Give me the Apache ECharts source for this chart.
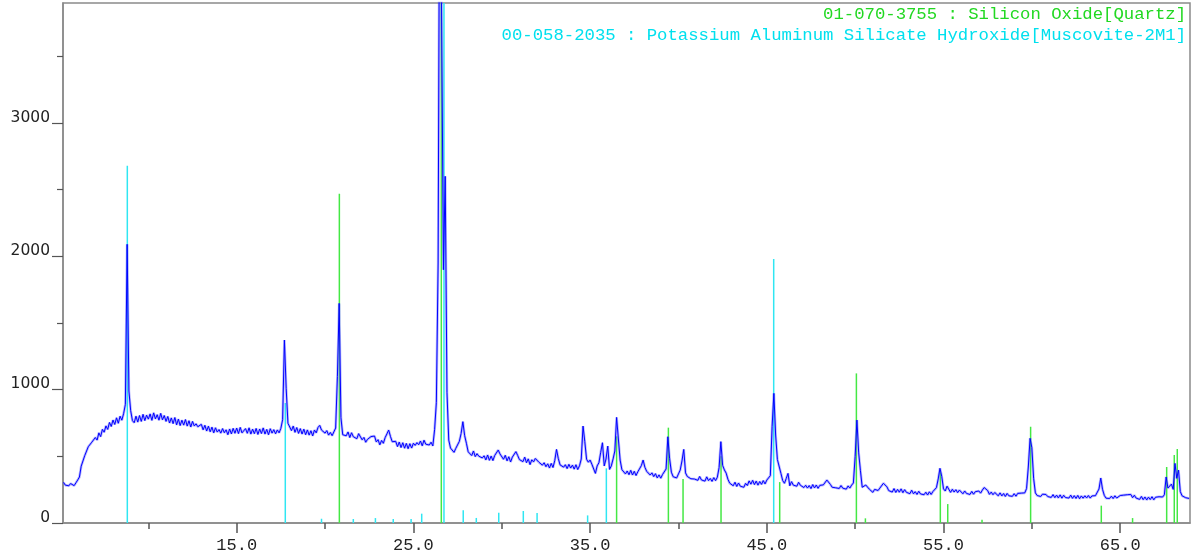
<!DOCTYPE html>
<html>
<head>
<meta charset="utf-8">
<script src="https://cdn.jsdelivr.net/npm/echarts@6/dist/echarts.min.js"></script>
<style>
  html, body { margin: 0; padding: 0; background: #ffffff; }
  #chart { width: 1204px; height: 560px; }
</style>
</head>
<body>
<div id="chart"></div>
<script>
// Measured scan: 2-theta from scanStart in steps of scanStep, counts per step (one row per degree)
const scanStart = 5.2;
const scanStep = 0.1;
const scanCounts = [
  305, 284, 299, 279, 296, 287, 280, 301,                 // 5.2 - 5.9
  322, 345, 426, 436, 505, 511, 572, 558, 606, 597,       // 6
  641, 622, 676, 648, 702, 681, 728, 702, 754, 724,       // 7
  772, 739, 789, 748, 801, 771, 820, 890, 2090, 990,      // 8
  842, 768, 752, 801, 757, 806, 762, 815, 768, 809,       // 9
  779, 818, 770, 826, 781, 812, 771, 822, 774, 806,       // 10
  762, 799, 750, 788, 745, 791, 736, 779, 731, 771,       // 11
  734, 776, 727, 767, 720, 762, 728, 744, 722, 736,       // 12
  740, 699, 733, 690, 726, 684, 719, 676, 714, 682,       // 13
  701, 674, 708, 677, 699, 662, 705, 668, 710, 673,       // 14
  712, 671, 717, 676, 666, 708, 673, 714, 667, 704,       // 15
  670, 709, 664, 705, 671, 713, 667, 702, 662, 707,       // 16
  674, 700, 669, 698, 676, 710, 775, 1372, 1010, 748,     // 17
  738, 693, 727, 680, 716, 672, 708, 667, 704, 662,       // 18
  698, 659, 692, 653, 697, 676, 716, 732, 697, 709,       // 19
  674, 693, 659, 679, 655, 645, 712, 1097, 1647, 790,     // 20
  662, 676, 654, 683, 641, 677, 647, 660, 632, 670,       // 21
  664, 624, 642, 606, 627, 613, 648, 633, 652, 608,       // 22
  625, 586, 619, 598, 640, 668, 697, 650, 610, 624,       // 23
  612, 573, 607, 566, 602, 561, 597, 557, 595, 562,       // 24
  598, 582, 603, 587, 615, 579, 621, 591, 604, 585,       // 25
  606, 578, 700, 905, 1950, 5600, 5600, 1900, 2600, 980,  // 26
  622, 562, 571, 530, 560, 554, 612, 671, 760, 655,       // 27
  598, 534, 545, 506, 540, 498, 520, 501, 509, 488,       // 28
  504, 473, 510, 470, 502, 468, 506, 512, 547, 518,       // 29
  515, 478, 508, 466, 497, 458, 494, 480, 535, 507,       // 30
  476, 488, 460, 494, 452, 481, 438, 474, 458, 484,       // 31
  497, 456, 467, 434, 452, 422, 444, 413, 447, 416,       // 32
  468, 552, 484, 436, 449, 419, 437, 408, 440, 412,       // 33
  434, 404, 437, 401, 429, 480, 727, 610, 478, 456,       // 34
  472, 441, 452, 372, 428, 452, 530, 602, 428, 480,       // 35
  577, 402, 428, 480, 540, 792, 630, 472, 400, 394,       // 36
  368, 390, 362, 395, 360, 388, 356, 384, 392, 430,       // 37
  472, 418, 388, 394, 360, 376, 348, 370, 338, 361,       // 38
  336, 364, 352, 405, 647, 482, 381, 347, 360, 338,       // 39
  368, 397, 466, 552, 376, 349, 358, 332, 345, 330,       // 40
  345, 320, 349, 323, 337, 314, 346, 318, 334, 312,       // 41
  340, 318, 343, 415, 610, 432, 398, 374, 328, 299,       // 42
  303, 279, 306, 274, 300, 276, 289, 268, 297, 281,       // 43
  316, 291, 320, 288, 314, 284, 311, 290, 318, 293,       // 44
  322, 309, 355, 722, 972, 660, 476, 488, 372, 318,       // 45
  298, 334, 372, 279, 310, 284, 296, 276, 305, 283,       // 46
  291, 266, 283, 262, 281, 258, 288, 263, 285, 260,       // 47
  282, 268, 286, 298, 322, 308, 289, 268, 279, 264,       // 48
  276, 259, 281, 261, 276, 254, 278, 262, 284, 300,       // 49
  498, 772, 526, 392, 268, 279, 285, 296, 254, 262,       // 50
  230, 252, 259, 244, 262, 268, 298, 310, 271, 243,       // 51
  255, 232, 258, 229, 252, 231, 256, 227, 250, 230,       // 52
  243, 220, 246, 219, 235, 214, 238, 218, 230, 212,       // 53
  231, 210, 234, 214, 236, 241, 265, 330, 410, 350,       // 54
  256, 240, 276, 285, 230, 253, 232, 250, 228, 247,       // 55
  236, 219, 240, 222, 234, 214, 237, 216, 235, 222,       // 56
  240, 224, 247, 266, 277, 243, 215, 232, 212, 229,       // 57
  224, 204, 226, 203, 221, 199, 222, 204, 218, 200,       // 58
  220, 201, 222, 208, 224, 213, 226, 258, 420, 635,       // 59
  565, 335, 226, 206, 218, 199, 216, 201, 214, 198,       // 60
  212, 192, 213, 190, 209, 188, 211, 186, 208, 191,       // 61
  206, 187, 209, 185, 205, 184, 207, 182, 203, 186,       // 62
  204, 188, 206, 187, 203, 190, 205, 196, 255, 337,       // 63
  252, 207, 186, 199, 184, 201, 183, 204, 187, 202,       // 64
  206, 191, 209, 194, 212, 199, 214, 190, 208, 187,       // 65
  197, 177, 199, 175, 195, 173, 194, 176, 197, 174,       // 66
  193, 181, 197, 184, 195, 212, 345, 262, 248, 292,       // 67
  252, 447, 335, 397, 236, 204, 211, 190, 197, 184        // 68
];

// Reference pattern 01-070-3755 : Silicon Oxide [Quartz] (2-theta, stick height)
const quartzPos    = [20.81, 26.58, 36.50, 39.43, 40.26, 42.41, 45.73, 50.07, 50.58, 54.82, 55.24, 57.18, 59.93, 63.93, 65.70, 67.63, 68.06, 68.23];
const quartzHeight = [2470,  5000,  650,   715,   330,   500,   307,   1122,  35,    380,   142,   25,    722,   130,   37,    420,   510,   555];

// Reference pattern 00-058-2035 : Muscovite-2M1 (2-theta, stick height)
const muscovitePos    = [8.81, 17.75, 19.80, 21.60, 22.85, 23.86, 24.87, 25.47, 26.73, 27.82, 28.56, 29.83, 31.22, 32.00, 34.86, 35.92, 45.39];
const muscoviteHeight = [2680, 900,   32,    30,    37,    30,    30,    70,    5000,  95,    38,    77,    90,    75,    57,    410,   1980];

// Axis ticks and labels
const xMajorTicks = [15, 25, 35, 45, 55, 65];
const xMinorTicks = [10, 20, 30, 40, 50, 60];
const yMajorTicks = [0, 1000, 2000, 3000];
const yMinorTicks = [500, 1500, 2500, 3500];

const legendQuartz = '01-070-3755 : Silicon Oxide[Quartz]';
const legendMuscovite = '00-058-2035 : Potassium Aluminum Silicate Hydroxide[Muscovite-2M1]';

const scanPoints = scanCounts.map((c, i) => [+(scanStart + i * scanStep).toFixed(2), c]);
const quartzSticks = quartzPos.map((p, i) => [p, quartzHeight[i]]);
const muscoviteSticks = muscovitePos.map((p, i) => [p, muscoviteHeight[i]]);

const QUARTZ = '#22d822';
const QUARTZ_STICK = '#44e844';
const MUSC = '#00e0ee';
const MUSC_STICK = '#30e6f2';
const FRAME = '#8a8a8a';
const MONO = '"Liberation Mono", "DejaVu Sans Mono", monospace';

function stickRenderer(color) {
  return function (params, api) {
    const base = api.coord([api.value(0), 0]);
    const top = api.coord([api.value(0), api.value(1)]);
    return {
      type: 'line',
      shape: { x1: base[0], y1: base[1], x2: top[0], y2: top[1] },
      style: { stroke: color, lineWidth: 1.5 }
    };
  };
}

const chart = echarts.init(document.getElementById('chart'), null, { renderer: 'canvas' });

const xRange = { min: 5.17, max: 68.95 };
const yRange = { min: 0, max: 3900 };

chart.setOption({
  animation: false,
  backgroundColor: '#ffffff',
  title: [
    {
      text: legendQuartz, right: 18, top: 6, padding: 0,
      textStyle: { color: QUARTZ, fontFamily: MONO, fontSize: 17.3, fontWeight: 'normal' }
    },
    {
      text: legendMuscovite, right: 18, top: 27, padding: 0,
      textStyle: { color: MUSC, fontFamily: MONO, fontSize: 17.3, fontWeight: 'normal' }
    }
  ],
  grid: {
    left: 63, right: 14, top: 3, bottom: 37,
    show: true, borderColor: FRAME, borderWidth: 1.5, backgroundColor: '#ffffff'
  },
  xAxis: [
    {
      type: 'value', ...xRange,
      axisLine: { show: true, lineStyle: { color: FRAME, width: 1.5 } },
      axisTick: { show: true, inside: false, length: 10, customValues: xMajorTicks, lineStyle: { color: '#555', width: 1.5 } },
      axisLabel: {
        customValues: xMajorTicks, margin: 14,
        formatter: v => v.toFixed(1),
        color: '#222', fontFamily: MONO, fontSize: 17
      },
      splitLine: { show: false }
    },
    {
      type: 'value', ...xRange, position: 'bottom',
      axisLine: { show: false },
      axisTick: { show: true, inside: false, length: 6, customValues: xMinorTicks, lineStyle: { color: '#555', width: 1.5 } },
      axisLabel: { show: false },
      splitLine: { show: false }
    }
  ],
  yAxis: [
    {
      type: 'value', ...yRange,
      axisLine: { show: true, lineStyle: { color: FRAME, width: 1.5 } },
      axisTick: { show: true, inside: false, length: 11, customValues: yMajorTicks, lineStyle: { color: '#555', width: 1.2 } },
      axisLabel: {
        customValues: yMajorTicks, margin: 13,
        formatter: v => String(v),
        verticalAlign: 'bottom', lineHeight: 11,
        color: '#222', fontFamily: '"DejaVu Sans", Verdana, sans-serif', fontSize: 15.5
      },
      splitLine: { show: false }
    },
    {
      type: 'value', ...yRange, position: 'left',
      axisLine: { show: false },
      axisTick: { show: true, inside: false, length: 6, customValues: yMinorTicks, lineStyle: { color: '#555', width: 1.2 } },
      axisLabel: { show: false },
      splitLine: { show: false }
    }
  ],
  series: [
    {
      name: 'Quartz', type: 'custom', clip: true,
      xAxisIndex: 0, yAxisIndex: 0,
      renderItem: stickRenderer(QUARTZ_STICK),
      data: quartzSticks, z: 2
    },
    {
      name: 'Muscovite-2M1', type: 'custom', clip: true,
      xAxisIndex: 0, yAxisIndex: 0,
      renderItem: stickRenderer(MUSC_STICK),
      data: muscoviteSticks, z: 2
    },
    {
      name: 'scan halo', type: 'line', showSymbol: false, symbol: 'none',
      xAxisIndex: 0, yAxisIndex: 0, clip: true,
      lineStyle: { color: 'rgba(96, 96, 255, 0.45)', width: 2.6 },
      data: scanPoints, z: 3, silent: true
    },
    {
      name: 'scan', type: 'line', showSymbol: false, symbol: 'none',
      xAxisIndex: 0, yAxisIndex: 0, clip: true,
      lineStyle: { color: '#0000ff', width: 1 },
      data: scanPoints, z: 4
    }
  ]
});
</script>
</body>
</html>
